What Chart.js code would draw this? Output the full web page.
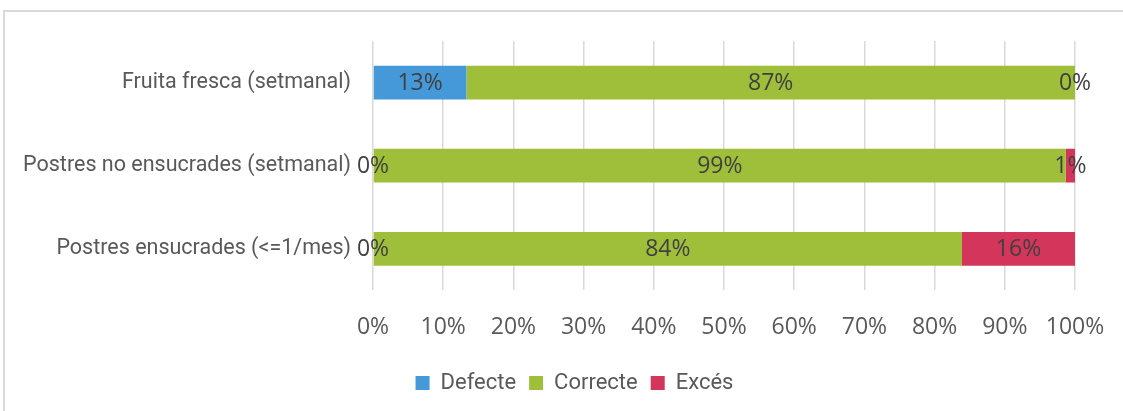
<!DOCTYPE html>
<html>
<head>
<meta charset="utf-8">
<script src="https://cdn.jsdelivr.net/npm/chart.js@4/dist/chart.umd.min.js"></script>
<style>
  html, body { margin: 0; padding: 0; background: #ffffff; overflow: hidden; }
  #frame { position: absolute; left: 3px; top: 10px; width: 1300px; height: 600px; border: 2px solid #dadada; }
  #wrap { position: absolute; left: 0; top: 0; width: 1123px; height: 411px; }
</style>
</head>
<body>
<div id="frame"></div>
<div id="wrap"><canvas id="my-chart" width="1123" height="411"></canvas></div>
<script>
// categories and series (percent of answers)
let categories = ['Fruita fresca (setmanal)', 'Postres no ensucrades (setmanal)', 'Postres ensucrades (<=1/mes)'];
let defecte = [13.3, 0, 0];
let correcte = [86.7, 98.7, 83.9];
let exces = [0, 1.3, 16.1];
let seriesNames = ['Defecte', 'Correcte', 'Excés'];
let xTicks = [0, 10, 20, 30, 40, 50, 60, 70, 80, 90, 100];

// draw the value in the middle of each segment
let segmentLabels = {
    id: 'segmentLabels',
    afterDatasetsDraw(chart) {
        let ctx = chart.ctx;
        ctx.save();
        ctx.font = '23px "Open Sans"';
        ctx.fillStyle = '#404040';
        ctx.textAlign = 'center';
        ctx.textBaseline = 'middle';
        chart.data.datasets.forEach((ds, i) => {
            let meta = chart.getDatasetMeta(i);
            meta.data.forEach((bar, j) => {
                let mid = (bar.x + bar.base) / 2;
                ctx.fillText(Math.round(ds.data[j]) + '%', mid, bar.y + 1);
            });
        });
        ctx.restore();
    }
};

// legend sits a bit right of the canvas centre
let legendShift = {
    id: 'legendShift',
    beforeDraw(chart) {
        chart.legend.left += 37;
        chart.legend.right += 37;
    }
};

let ctx = document.getElementById('my-chart').getContext('2d');
new Chart(ctx, {
    type: 'bar',
    data: {
        labels: categories,
        datasets: [
            { label: seriesNames[0], data: defecte, backgroundColor: '#4599d8' },
            { label: seriesNames[1], data: correcte, backgroundColor: '#9fbf3b' },
            { label: seriesNames[2], data: exces, backgroundColor: '#d4355a' }
        ]
    },
    options: {
        indexAxis: 'y',
        responsive: false,
        animation: false,
        barPercentage: 0.81,
        categoryPercentage: 0.5,
        layout: { padding: { top: 41, right: 48, bottom: 7, left: 0 } },
        scales: {
            x: {
                stacked: true,
                min: 0,
                max: 100,
                afterBuildTicks: (axis) => { axis.ticks = xTicks.map(v => ({ value: v })); },
                afterFit: (axis) => {
                    axis.height -= 5;
                    axis.paddingLeft = 0;
                    axis.paddingRight = 0;
                },
                ticks: {
                    callback: (v) => v + '%',
                    font: { family: 'Open Sans', size: 23 },
                    color: '#595959',
                    padding: 23,
                    maxRotation: 0
                },
                grid: { color: '#d9d9d9', lineWidth: 1.5, drawTicks: false },
                border: { display: false }
            },
            y: {
                stacked: true,
                afterFit: (axis) => { axis.width = 373; },
                ticks: {
                    font: { family: 'Roboto', size: 21.5 },
                    color: '#595959',
                    padding: 22
                },
                grid: { display: false, drawTicks: false },
                border: { display: false }
            }
        },
        plugins: {
            legend: {
                position: 'bottom',
                labels: {
                    font: { family: 'Roboto', size: 22 },
                    color: '#595959',
                    boxWidth: 14,
                    boxHeight: 14,
                    padding: 13
                }
            },
            tooltip: { enabled: false }
        }
    },
    plugins: [segmentLabels, legendShift]
});
</script>
</body>
</html>
